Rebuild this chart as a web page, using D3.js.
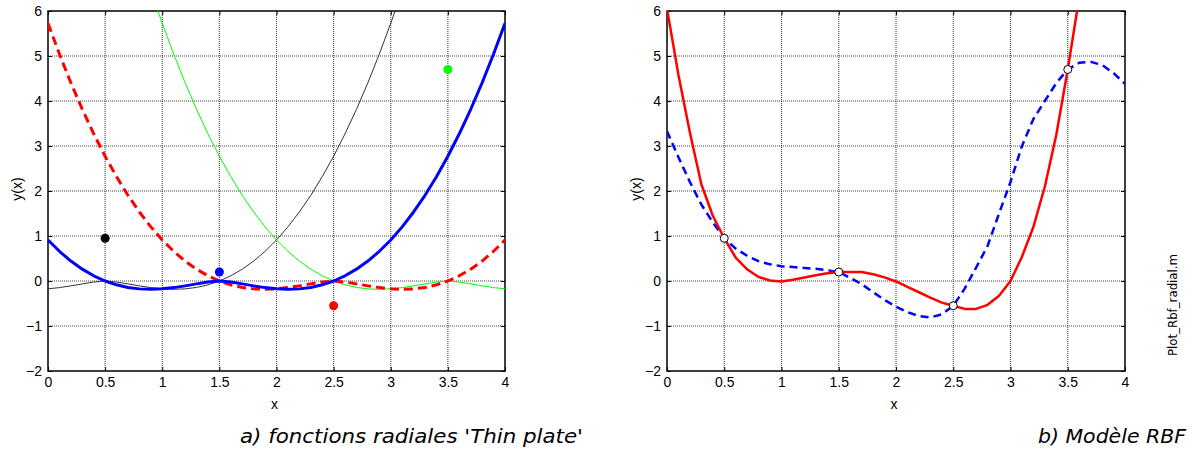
<!DOCTYPE html>
<html><head><meta charset="utf-8">
<script src="https://cdn.jsdelivr.net/npm/d3@7"></script>
<style>body{margin:0;background:#fff}svg{display:block}</style>
</head><body>
<svg id="c" width="1190" height="453"></svg>
<script>
// sample abscissae (step 0.1 from 0 to 4)
const xs = d3.range(0, 41).map(i => +(i * 0.1).toFixed(1));

// Panel a) thin-plate basis functions (read from picture)
const basisBlack = [-0.173,-0.147,-0.108,-0.064,-0.023,0,-0.023,-0.064,-0.108,-0.147,-0.173,-0.184,-0.175,-0.143,-0.085,0,0.115,0.263,0.443,0.660,0.912,1.203,1.534,1.904,2.317,2.773,3.272,3.816,4.406,5.043,5.727,6.459,7.241,8.072,8.954,9.888,10.873,11.911,13.002,14.147,15.346];
const basisBlue = [0.912,0.660,0.443,0.263,0.115,0,-0.085,-0.143,-0.175,-0.184,-0.173,-0.147,-0.108,-0.064,-0.023,0,-0.023,-0.064,-0.108,-0.147,-0.173,-0.184,-0.175,-0.143,-0.085,0,0.115,0.263,0.443,0.660,0.912,1.203,1.534,1.904,2.317,2.773,3.272,3.816,4.406,5.043,5.727];
const basisRed = [5.727,5.043,4.406,3.816,3.272,2.773,2.317,1.904,1.534,1.203,0.912,0.660,0.443,0.263,0.115,0,-0.085,-0.143,-0.175,-0.184,-0.173,-0.147,-0.108,-0.064,-0.023,0,-0.023,-0.064,-0.108,-0.147,-0.173,-0.184,-0.175,-0.143,-0.085,0,0.115,0.263,0.443,0.660,0.912];
const basisGreen = [15.346,14.147,13.002,11.911,10.873,9.888,8.954,8.072,7.241,6.459,5.727,5.043,4.406,3.816,3.272,2.773,2.317,1.904,1.534,1.203,0.912,0.660,0.443,0.263,0.115,0,-0.085,-0.143,-0.175,-0.184,-0.173,-0.147,-0.108,-0.064,-0.023,0,-0.023,-0.064,-0.108,-0.147,-0.173];

// data points
const ptX = [0.5, 1.5, 2.5, 3.5];
const ptY = [0.95, 0.2, -0.55, 4.7];
const ptColors = ["#000000", "#0000ff", "#ff0000", "#00ff00"];

// Panel b) RBF models (read from picture)
const modelRed = [6.05,4.58,3.3,2.15,1.45,0.95,0.52,0.26,0.09,0.01,-0.01,0.03,0.08,0.13,0.17,0.2,0.2,0.2,0.15,0.08,-0.01,-0.13,-0.25,-0.37,-0.48,-0.55,-0.62,-0.62,-0.53,-0.33,0.0,0.54,1.2,2.1,3.25,4.7,6.3,8.0];
const modelBlue = [3.33,2.75,2.2,1.7,1.3,0.95,0.72,0.56,0.44,0.37,0.33,0.31,0.29,0.27,0.24,0.2,0.07,-0.07,-0.25,-0.42,-0.57,-0.69,-0.78,-0.81,-0.74,-0.55,-0.17,0.3,0.78,1.5,2.2,3.0,3.6,4.0,4.4,4.7,4.85,4.87,4.8,4.62,4.38];

const xTicks = [0,0.5,1,1.5,2,2.5,3,3.5,4];
const yTicks = [-2,-1,0,1,2,3,4,5,6];
const captionA = "a) fonctions radiales 'Thin plate'";
const captionB = "b) Modèle RBF";
const sideLabel = "Plot_Rbf_radial.m";

const svg = d3.select("#c");
const FONT = "Liberation Sans, Arial, sans-serif";

function panel(x0, x1, id) {
  const x = d3.scaleLinear().domain([0, 4]).range([x0, x1]);
  const y = d3.scaleLinear().domain([-2, 6]).range([371, 11]);
  const g = svg.append("g");
  g.append("clipPath").attr("id", id).append("rect")
    .attr("x", x0).attr("y", 11).attr("width", x1 - x0).attr("height", 360);
  // grid
  g.selectAll(".gx").data(xTicks.slice(1, -1)).join("line")
    .attr("x1", d => x(d)).attr("x2", d => x(d)).attr("y1", 11).attr("y2", 371)
    .attr("stroke", "#444").attr("stroke-width", 1.1).attr("stroke-dasharray", "1,1");
  g.selectAll(".gy").data(yTicks.slice(1, -1)).join("line")
    .attr("y1", d => y(d)).attr("y2", d => y(d)).attr("x1", x0).attr("x2", x1)
    .attr("stroke", "#444").attr("stroke-width", 1.1).attr("stroke-dasharray", "1,1");
  // axes
  const fs = "14px";
  g.append("g").attr("transform", `translate(0,371)`)
    .call(d3.axisBottom(x).tickValues(xTicks).tickSize(-4).tickPadding(6).tickFormat(d3.format("")))
    .call(a => a.select(".domain").remove())
    .call(a => a.selectAll("text").attr("font-size", fs).attr("font-family", FONT).attr("fill", "#000"));
  g.append("g").attr("transform", `translate(0,11)`)
    .call(d3.axisTop(x).tickValues(xTicks).tickSize(-4).tickFormat(""))
    .call(a => a.select(".domain").remove());
  g.append("g").attr("transform", `translate(${x0},0)`)
    .call(d3.axisLeft(y).tickValues(yTicks).tickSize(-4).tickPadding(6).tickFormat(d3.format("")))
    .call(a => a.select(".domain").remove())
    .call(a => a.selectAll("text").attr("font-size", fs).attr("font-family", FONT).attr("fill", "#000"));
  g.append("g").attr("transform", `translate(${x1},0)`)
    .call(d3.axisRight(y).tickValues(yTicks).tickSize(-4).tickFormat(""))
    .call(a => a.select(".domain").remove());
  g.append("rect").attr("x", x0).attr("y", 11).attr("width", x1 - x0).attr("height", 360)
    .attr("fill", "none").attr("stroke", "#000").attr("stroke-width", 1.5);
  // labels
  g.append("text").attr("x", (x0 + x1) / 2 - 2).attr("y", 409).attr("text-anchor", "middle")
    .attr("font-size", "14px").attr("font-family", FONT).text("x");
  g.append("text").attr("transform", `translate(${x0 - 26},189) rotate(-90)`).attr("text-anchor", "middle")
    .attr("font-size", "14px").attr("font-family", FONT).text("y(x)");
  const plot = g.append("g").attr("clip-path", `url(#${id})`);
  return {x, y, plot};
}

function drawLine(p, ys, color, width, dash) {
  const line = d3.line().x((d, i) => p.x(xs[i])).y(d => p.y(d));
  p.plot.append("path").datum(ys).attr("d", line).attr("fill", "none")
    .attr("stroke", color).attr("stroke-width", width)
    .attr("stroke-dasharray", dash || null).attr("stroke-linejoin", "round");
}

// Panel a
const pa = panel(48, 505, "clipA");
drawLine(pa, basisBlack, "#333", 1);
drawLine(pa, basisGreen, "#00ff00", 1);
drawLine(pa, basisRed, "#ff0000", 3, "9,5");
drawLine(pa, basisBlue, "#0000ff", 3);
pa.plot.selectAll(".pt").data(ptX).join("circle")
  .attr("cx", d => pa.x(d)).attr("cy", (d, i) => pa.y(ptY[i])).attr("r", 4.5)
  .attr("fill", (d, i) => ptColors[i]);

// Panel b
const pb = panel(667, 1125, "clipB");
drawLine(pb, modelBlue, "#0000ff", 2.5, "8,5");
drawLine(pb, modelRed, "#ff0000", 2.5);
pb.plot.selectAll(".pt").data(ptX).join("circle")
  .attr("cx", d => pb.x(d)).attr("cy", (d, i) => pb.y(ptY[i])).attr("r", 4)
  .attr("fill", "#fff").attr("stroke", "#000").attr("stroke-width", 1);

// captions
svg.append("text").attr("x", 240).attr("y", 443).attr("font-size", "19px")
  .attr("font-style", "italic").attr("font-family", "DejaVu Sans, sans-serif")
  .attr("textLength", 343).attr("lengthAdjust", "spacingAndGlyphs").text(captionA);
svg.append("text").attr("x", 1038).attr("y", 443).attr("font-size", "19px")
  .attr("font-style", "italic").attr("font-family", "DejaVu Sans, sans-serif")
  .attr("textLength", 148).attr("lengthAdjust", "spacingAndGlyphs").text(captionB);
svg.append("text").attr("transform", "translate(1177,305) rotate(-90)").attr("text-anchor", "middle")
  .attr("font-size", "13px").attr("font-family", "DejaVu Sans, sans-serif")
  .attr("textLength", 102).attr("lengthAdjust", "spacingAndGlyphs").text(sideLabel);
</script>
</body></html>
